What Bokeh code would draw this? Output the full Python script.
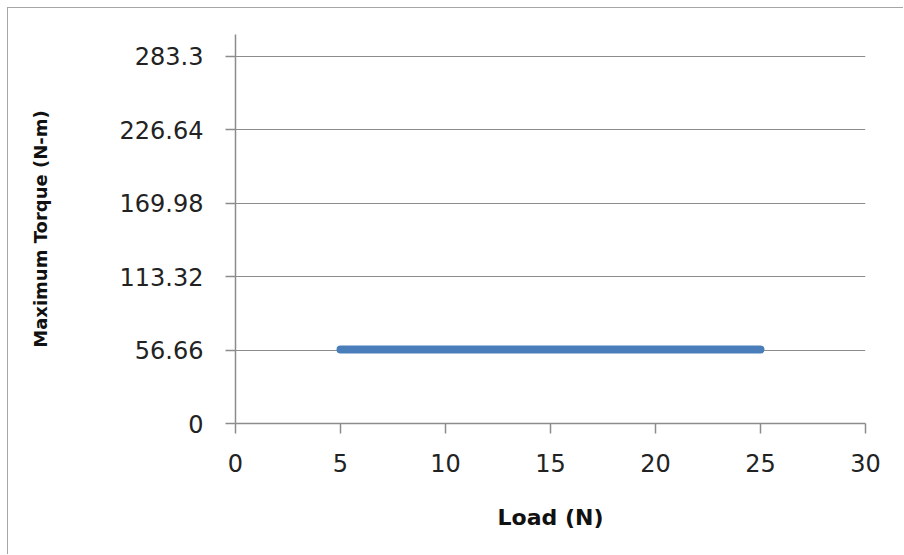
from bokeh.plotting import figure
from bokeh.models import Range1d, FixedTicker
from bokeh.embed import file_html
from bokeh.resources import INLINE

# Data
load_n = [5, 10, 15, 20, 25]
max_torque = [57.0, 57.0, 57.0, 57.0, 57.0]
x_ticks = [0, 5, 10, 15, 20, 25, 30]
y_ticks = [0.0, 56.66, 113.32, 169.98, 226.64, 283.3]
y_tick_labels = ["0", "56.66", "113.32", "169.98", "226.64", "283.3"]

p = figure(width=896, height=547, output_backend="svg", toolbar_location=None,
           x_range=Range1d(0, 30), y_range=Range1d(0, 300),
           min_border_left=227, min_border_right=39, min_border_top=26, min_border_bottom=132)
p.styles = {"border-left": "1px solid #a6a6a6", "border-top": "1px solid #a6a6a6",
            "margin-left": "7px", "margin-top": "7px"}
p.outline_line_color = None
p.background_fill_color = "white"
p.border_fill_color = "white"

p.line(load_n, max_torque, line_width=8, line_color="#4a7ebb", line_cap="round")

grey = "#8c8c8c"
p.xgrid.visible = False
p.ygrid.ticker = FixedTicker(ticks=y_ticks)
p.ygrid.grid_line_color = grey
p.ygrid.grid_line_width = 1

for ax in (p.xaxis[0], p.yaxis[0]):
    ax.axis_line_color = grey
    ax.axis_line_width = 1.5
    ax.major_tick_line_color = grey
    ax.major_tick_line_width = 1.5
    ax.major_tick_in = 0
    ax.major_tick_out = 10
    ax.minor_tick_line_color = None
    ax.major_label_text_font = "DejaVu Sans"
    ax.major_label_text_font_size = "24px"
    ax.major_label_text_color = "#222222"
    ax.axis_label_text_font = "DejaVu Sans"
    ax.axis_label_text_font_style = "bold"
    ax.axis_label_text_color = "#111111"

p.xaxis.ticker = FixedTicker(ticks=x_ticks)
p.xaxis.axis_label = "Load (N)"
p.xaxis.axis_label_text_font_size = "22px"
p.xaxis.major_label_standoff = 20
p.xaxis.axis_label_standoff = 30

p.yaxis.ticker = FixedTicker(ticks=y_ticks)
p.yaxis.major_label_overrides = dict(zip(y_ticks, y_tick_labels))
p.yaxis.axis_label = "Maximum Torque (N-m)"
p.yaxis.axis_label_text_font_size = "18px"
p.yaxis.major_label_standoff = 22
p.yaxis.axis_label_standoff = 66

open("out.html", "w").write(file_html(p, INLINE))
